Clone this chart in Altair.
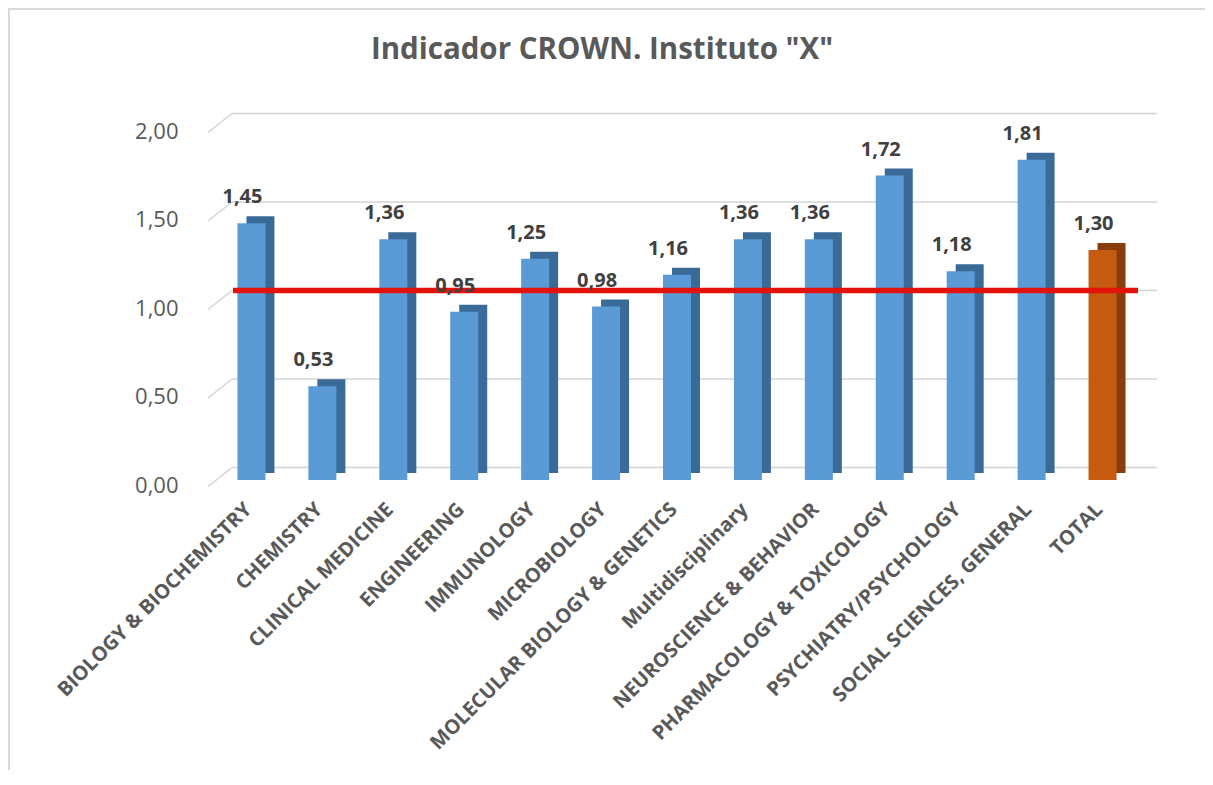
import altair as alt
import pandas as pd

categories = [
    "BIOLOGY & BIOCHEMISTRY", "CHEMISTRY", "CLINICAL MEDICINE", "ENGINEERING",
    "IMMUNOLOGY", "MICROBIOLOGY", "MOLECULAR BIOLOGY & GENETICS",
    "Multidisciplinary", "NEUROSCIENCE & BEHAVIOR", "PHARMACOLOGY & TOXICOLOGY",
    "PSYCHIATRY/PSYCHOLOGY", "SOCIAL SCIENCES, GENERAL", "TOTAL",
]
values = [1.45, 0.53, 1.36, 0.95, 1.25, 0.98, 1.16, 1.36, 1.36, 1.72, 1.18, 1.81, 1.30]
kinds = ["area"] * 12 + ["total"]
grid_values = [0.0, 0.5, 1.0, 1.5, 2.0]
reference_value = [1.0]
title_text = 'Indicador CROWN. Instituto "X"'

df = pd.DataFrame({
    "cat": categories,
    "val": values,
    "kind": kinds,
    "label": [f"{v:.2f}".replace(".", ",") for v in values],
})
grid_df = pd.DataFrame({"g": grid_values})
ref_df = pd.DataFrame({"r": reference_value})

W, H = 922, 354
ysc = alt.Scale(domain=[0, 2], nice=False, zero=True)
xsc = alt.Scale(domain=categories, paddingInner=0, paddingOuter=0)

x_enc = alt.X(
    "cat:N", scale=xsc, sort=categories, title=None,
    axis=alt.Axis(
        labelAngle=-45, labelAlign="right", labelBaseline="middle",
        labelFont="Open Sans", labelFontWeight="bold", labelFontSize=20,
        labelColor="#595959", labelPadding=26, labelOffset=-3,
        domain=False, ticks=False, grid=False, labelLimit=400,
    ),
)

is_total = alt.datum.kind == "total"
front_col = alt.condition(is_total, alt.value("#c55a11"), alt.value("#5b9bd5"))
side_col = alt.condition(is_total, alt.value("#8a3d0b"), alt.value("#3a6a98"))

# back-wall gridlines
grid = alt.Chart(grid_df).mark_rule(color="#d4d4d4", strokeWidth=1.5, yOffset=-12.5).encode(
    y=alt.Y("g:Q", scale=ysc, title=None,
            axis=alt.Axis(values=grid_values, labelExpr="replace(format(datum.value, '.2f'), '.', ',')",
                          labelFont="Open Sans", labelFontSize=22, labelColor="#595959",
                          labelPadding=38, labelOffset=5, domain=False, ticks=False, grid=False)),
    x=alt.value(16), x2=alt.value(941),
)
# side-wall diagonals
diag = alt.Chart(grid_df).mark_rule(color="#d4d4d4", strokeWidth=1.5, yOffset=6.5, y2Offset=-12.5).encode(
    y=alt.Y("g:Q", scale=ysc), y2=alt.Y2("g"),
    x=alt.value(-8), x2=alt.value(16),
)

side = alt.Chart(df).mark_bar(size=28, xOffset=9, yOffset=-7).encode(
    x=x_enc, y=alt.Y("val:Q", scale=ysc), color=side_col,
)
front = alt.Chart(df).mark_bar(size=28).encode(
    x=alt.X("cat:N", scale=xsc, sort=categories), y=alt.Y("val:Q", scale=ysc), color=front_col,
)

ref = alt.Chart(ref_df).mark_rule(color="#e3120b", strokeWidth=5.5, yOffset=-12.5).encode(
    y=alt.Y("r:Q", scale=ysc), x=alt.value(17), x2=alt.value(922),
)

labels = alt.Chart(df).mark_text(
    font="Open Sans", fontWeight="bold", fontSize=20, color="#404040",
    dx=-9, dy=-26, baseline="middle", align="center",
).encode(
    x=alt.X("cat:N", scale=xsc, sort=categories), y=alt.Y("val:Q", scale=ysc), text="label:N",
)

title = alt.Chart(ref_df).mark_text(
    font="Open Sans", fontWeight="bold", fontSize=29.5, color="#595959",
    align="center", baseline="alphabetic",
).encode(x=alt.value(386), y=alt.value(-67), text=alt.value(title_text))

border_left = alt.Chart(ref_df).mark_rule(color="#d9d9d9", strokeWidth=2).encode(
    x=alt.value(-207), y=alt.value(-118), y2=alt.value(700),
)
border_top = alt.Chart(ref_df).mark_rule(color="#d9d9d9", strokeWidth=2).encode(
    x=alt.value(-208), x2=alt.value(1000), y=alt.value(-117),
)

chart = alt.layer(grid, diag, side, front, ref, labels, title, border_left, border_top).properties(
    width=W, height=H,
    autosize=alt.AutoSizeParams(type="none"),
    padding={"left": 208, "top": 118, "right": 67, "bottom": 290},
    background="white",
).configure_view(stroke=None)

chart.save("out.html", embed_options={"renderer": "svg", "actions": False})
